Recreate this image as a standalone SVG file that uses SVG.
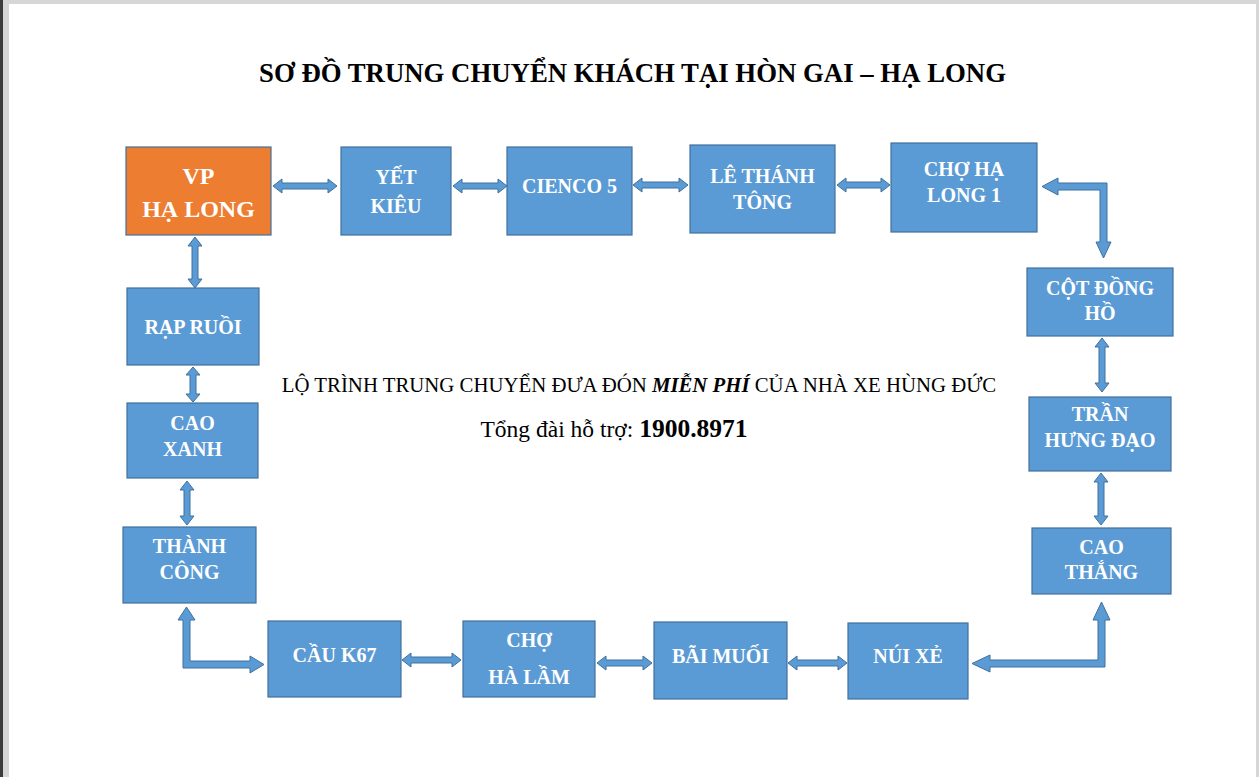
<svg xmlns="http://www.w3.org/2000/svg" width="1259" height="777" viewBox="0 0 1259 777">
<style>
.box{fill:#5B9BD5;stroke:#41719C;stroke-width:1.2}
.org{fill:#ED7D31;stroke:#41719C;stroke-width:1.2}
.arr{fill:#5B9BD5;stroke:#41719C;stroke-width:1}
.lbl{font-family:"Liberation Serif","Times New Roman",serif;font-weight:bold;font-size:20px;fill:#ffffff;text-anchor:middle}
.big{font-size:24px}
.title{font-family:"Liberation Serif","Times New Roman",serif;font-weight:bold;font-size:26.5px;fill:#000;text-anchor:middle}
.body{font-family:"Liberation Serif","Times New Roman",serif;fill:#000;text-anchor:middle}
</style>
<rect x="0" y="0" width="1259" height="777" fill="#d6d6d6"/>
<rect x="0" y="0" width="3" height="777" fill="#3c3c3c"/>
<rect x="9" y="4" width="1247" height="773" fill="#ffffff"/>
<text class="title" x="632.5" y="82" textLength="747" lengthAdjust="spacingAndGlyphs">SƠ ĐỒ TRUNG CHUYỂN KHÁCH TẠI HÒN GAI – HẠ LONG</text>
<g id="info">
<text class="body" x="639" y="392" font-size="20.8">LỘ TRÌNH TRUNG CHUYỂN ĐƯA ĐÓN <tspan font-weight="bold" font-style="italic">MIỄN PHÍ</tspan> CỦA NHÀ XE HÙNG ĐỨC</text>
<text class="body" x="614" y="437" font-size="23.5">Tổng đài hỗ trợ: <tspan font-weight="bold" font-size="25.5">1900.8971</tspan></text>
</g>
<g id="connectors">
<path class="arr" d="M273 186 L282 179 L282 183 L328 183 L328 179 L337 186 L328 193 L328 189 L282 189 L282 193 Z"/>
<path class="arr" d="M453 186 L462 179 L462 183 L498 183 L498 179 L507 186 L498 193 L498 189 L462 189 L462 193 Z"/>
<path class="arr" d="M633 185 L642 178 L642 182 L679 182 L679 178 L688 185 L679 192 L679 188 L642 188 L642 192 Z"/>
<path class="arr" d="M837 185 L846 178 L846 182 L881 182 L881 178 L890 185 L881 192 L881 188 L846 188 L846 192 Z"/>
<path class="arr" d="M1042 186.5 L1058 178 L1058 183 L1107 183 L1107 242 L1111 242 L1103.5 258 L1096 242 L1100 242 L1100 190 L1058 190 L1058 195 Z"/>
<path class="arr" d="M1102 338 L1109 347 L1105 347 L1105 383 L1109 383 L1102 392 L1095 383 L1099 383 L1099 347 L1095 347 Z"/>
<path class="arr" d="M1101 473 L1108 482 L1104 482 L1104 516 L1108 516 L1101 525 L1094 516 L1098 516 L1098 482 L1094 482 Z"/>
<path class="arr" d="M972 663.5 L990 655 L990 660 L1098 660 L1098 620 L1093 620 L1101.5 602 L1110 620 L1105 620 L1105 667 L990 667 L990 672 Z"/>
<path class="arr" d="M788 663 L797 656 L797 660 L838 660 L838 656 L847 663 L838 670 L838 666 L797 666 L797 670 Z"/>
<path class="arr" d="M597 663 L606 656 L606 660 L643 660 L643 656 L652 663 L643 670 L643 666 L606 666 L606 670 Z"/>
<path class="arr" d="M402 660 L411 653 L411 657 L452 657 L452 653 L461 660 L452 667 L452 663 L411 663 L411 667 Z"/>
<path class="arr" d="M186.5 607 L195 620 L190 620 L190 661 L250 661 L250 656 L264 664.5 L250 673 L250 668 L183 668 L183 620 L178 620 Z"/>
<path class="arr" d="M187 481 L194 490 L190 490 L190 516 L194 516 L187 525 L180 516 L184 516 L184 490 L180 490 Z"/>
<path class="arr" d="M193 367 L200 375 L196 375 L196 394 L200 394 L193 402 L186 394 L190 394 L190 375 L186 375 Z"/>
<path class="arr" d="M195 237 L202 246 L198 246 L198 279 L202 279 L195 288 L188 279 L192 279 L192 246 L188 246 Z"/>
</g>
<g id="vp-ha-long"><rect class="org" x="126" y="147" width="145" height="88"/><text class="lbl big" x="198.5" y="184">VP</text><text class="lbl big" x="198.5" y="217">HẠ LONG</text></g>
<g id="yet-kieu"><rect class="box" x="341" y="147" width="110" height="88"/><text class="lbl" x="396" y="184">YẾT</text><text class="lbl" x="396" y="213">KIÊU</text></g>
<g id="cienco-5"><rect class="box" x="507" y="147" width="125" height="88"/><text class="lbl" x="569.5" y="193">CIENCO 5</text></g>
<g id="le-thanh-tong"><rect class="box" x="690" y="145" width="145" height="88"/><text class="lbl" x="762.5" y="183">LÊ THÁNH</text><text class="lbl" x="762.5" y="209">TÔNG</text></g>
<g id="cho-ha-long-1"><rect class="box" x="891" y="143" width="146" height="89"/><text class="lbl" x="964" y="176">CHỢ HẠ</text><text class="lbl" x="964" y="202">LONG 1</text></g>
<g id="cot-dong-ho"><rect class="box" x="1027" y="268" width="146" height="68"/><text class="lbl" x="1100" y="295">CỘT ĐỒNG</text><text class="lbl" x="1100" y="320">HỒ</text></g>
<g id="tran-hung-dao"><rect class="box" x="1029" y="397" width="142" height="74"/><text class="lbl" x="1100" y="421">TRẦN</text><text class="lbl" x="1100" y="447">HƯNG ĐẠO</text></g>
<g id="cao-thang"><rect class="box" x="1032" y="528" width="139" height="66"/><text class="lbl" x="1101.5" y="554">CAO</text><text class="lbl" x="1101.5" y="579">THẮNG</text></g>
<g id="nui-xe"><rect class="box" x="848" y="623" width="120" height="76"/><text class="lbl" x="908" y="663">NÚI XẺ</text></g>
<g id="bai-muoi"><rect class="box" x="654" y="622" width="133" height="77"/><text class="lbl" x="720.5" y="663">BÃI MUỐI</text></g>
<g id="cho-ha-lam"><rect class="box" x="463" y="621" width="132" height="76"/><text class="lbl" x="529" y="647">CHỢ</text><text class="lbl" x="529" y="684">HÀ LẦM</text></g>
<g id="cau-k67"><rect class="box" x="268" y="621" width="133" height="76"/><text class="lbl" x="334.5" y="662">CẦU K67</text></g>
<g id="thanh-cong"><rect class="box" x="123" y="527" width="133" height="76"/><text class="lbl" x="189.5" y="553">THÀNH</text><text class="lbl" x="189.5" y="579">CÔNG</text></g>
<g id="cao-xanh"><rect class="box" x="127" y="403" width="131" height="75"/><text class="lbl" x="192.5" y="430">CAO</text><text class="lbl" x="192.5" y="456">XANH</text></g>
<g id="rap-ruoi"><rect class="box" x="127" y="288" width="132" height="77"/><text class="lbl" x="193" y="334">RẠP RUỒI</text></g>
</svg>
